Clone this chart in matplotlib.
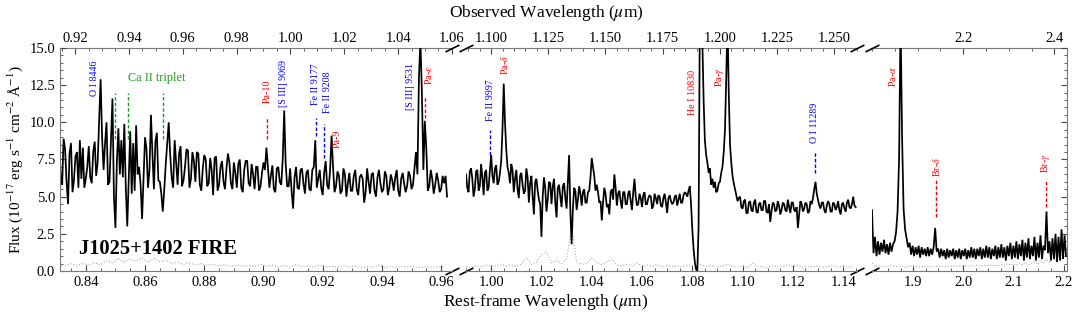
import numpy as np
import matplotlib
matplotlib.use('Agg')
import matplotlib.pyplot as plt
from matplotlib.ticker import MultipleLocator, FixedLocator, FormatStrFormatter

plt.rcParams['font.family'] = ['Liberation Serif', 'DejaVu Serif']
plt.rcParams['mathtext.fontset'] = 'stix'

# redshift used for the observed-wavelength axis on top
z = 0.1

# ---- spectrum, panel 1 (rest-frame um, every 0.0005 from 0.831) ----
wave1_start, wave1_step = 0.831, 0.0005
flux1 = [
    9.4, 6.2, 5.8, 8.9, 8.2, 6.0, 4.5, 7.9, 8.6, 5.3, 6.1, 7.7, 8.0, 5.6, 8.8, 6.2, 8.3, 5.6, 6.2, 7.0,
    8.4, 6.3, 5.9, 8.0, 8.7, 6.4, 7.3, 10.0, 12.9, 9.0, 6.8, 8.6, 10.0, 5.8, 6.0, 8.9, 11.6, 5.0, 2.9, 7.4,
    9.6, 6.5, 8.8, 6.3, 9.9, 5.6, 3.0, 6.2, 9.4, 5.2, 8.6, 5.4, 9.8, 6.5, 7.0, 5.8, 3.5, 6.2, 9.0, 8.2,
    5.6, 6.8, 10.5, 7.9, 5.5, 8.7, 9.3, 6.1, 6.0, 5.2, 4.0, 5.5, 7.2, 8.6, 10.0, 7.8, 6.3, 5.6, 8.8, 7.3,
    5.8, 7.9, 8.4, 5.7, 6.1, 7.0, 8.2, 8.1, 5.6, 6.2, 8.0, 7.4, 6.0, 8.0, 7.9, 5.8, 5.4, 6.9, 7.8, 7.5,
    5.7, 5.9, 7.6, 6.8, 5.1, 7.6, 7.7, 5.4, 5.8, 7.0, 7.4, 6.0, 5.5, 6.9, 7.9, 7.3, 5.9, 5.5, 7.3, 6.6,
    5.6, 7.2, 7.5, 5.6, 5.3, 6.8, 7.4, 7.4, 5.9, 5.7, 7.2, 6.5, 5.5, 7.0, 7.0, 5.4, 5.7, 6.6, 7.3, 6.8,
    8.3, 7.0, 5.6, 6.4, 7.1, 5.5, 5.3, 6.9, 7.0, 6.0, 5.8, 7.5, 10.8, 7.2, 5.7, 5.7, 6.9, 5.4, 4.2, 6.3,
    7.0, 5.6, 5.5, 6.8, 6.9, 5.9, 5.2, 6.6, 6.8, 5.5, 5.4, 6.8, 7.0, 8.8, 5.6, 6.2, 6.8, 5.6, 5.1, 6.6,
    7.4, 5.8, 5.5, 6.8, 9.1, 7.0, 5.3, 5.7, 6.7, 6.4, 5.2, 5.4, 6.9, 6.5, 5.0, 5.9, 6.6, 5.4, 5.4, 6.4,
    6.8, 5.5, 5.1, 6.3, 6.5, 6.2, 4.6, 5.3, 6.9, 6.0, 5.2, 6.5, 6.6, 5.4, 5.0, 6.3, 6.8, 5.9, 5.3, 5.5,
    6.7, 6.4, 5.1, 5.6, 6.5, 6.1, 5.4, 6.3, 6.8, 5.4, 5.0, 6.2, 6.6, 5.9, 5.3, 5.7, 6.7, 6.4, 5.5, 5.8,
    6.9, 8.0, 6.5, 13.0, 15.5, 12.0, 6.8, 10.1, 8.2, 5.4, 5.7, 6.8, 6.2, 5.2, 5.8, 6.6, 6.1, 5.3, 5.5, 6.4,
    5.9, 6.4, 5.0,
]
err1_start, err1_step = 0.831, 0.002
err1 = [
    0.45, 0.35, 0.48, 0.38, 0.50, 0.40, 0.55, 0.42, 0.70, 0.55,
    0.85, 0.60, 0.80, 0.65, 0.90, 0.58, 0.85, 0.62, 0.75, 0.50,
    0.60, 0.45, 0.55, 0.40, 0.50, 0.38, 0.45, 0.35, 0.42, 0.33,
    0.40, 0.32, 0.38, 0.30, 0.45, 0.32, 0.38, 0.28, 0.36, 0.30,
    0.40, 0.28, 0.35, 0.27, 0.40, 0.26, 0.33, 0.25, 0.35, 0.27,
    0.32, 0.24, 0.30, 0.26, 0.38, 0.25, 0.30, 0.24, 0.32, 0.25,
    0.30, 0.23, 0.28, 0.24, 0.30, 0.25,
]

# ---- panel 2 (every 0.0005 from 0.990) ----
wave2_start, wave2_step = 0.990, 0.0005
flux2 = [
    6.5, 5.6, 5.3, 6.7, 6.9, 6.2, 5.0, 5.5, 6.7, 6.8, 5.4, 5.7, 7.2, 6.3, 5.1, 6.6, 6.8, 5.4, 5.6, 6.8,
    7.8, 6.4, 5.9, 6.9, 7.1, 5.8, 6.0, 6.6, 7.4, 9.5, 12.6, 10.0, 8.2, 7.0, 6.6, 5.9, 7.2, 6.8, 5.3, 6.2,
    6.8, 5.5, 4.9, 6.4, 6.6, 5.8, 5.2, 5.4, 6.9, 6.3, 4.6, 5.9, 6.4, 5.0, 3.8, 6.0, 6.2, 5.4, 4.8, 4.5,
    2.3, 5.0, 6.3, 5.6, 4.0, 4.8, 6.0, 5.9, 4.5, 5.7, 6.2, 4.6, 3.6, 5.6, 5.8, 5.0, 4.3, 5.7, 5.9, 4.9,
    4.2, 6.0, 7.8, 4.0, 1.8, 4.2, 5.6, 5.4, 4.1, 4.8, 5.7, 5.2, 4.4, 5.3, 5.5, 4.6, 4.6, 5.3, 5.4, 6.3,
    7.6, 7.0, 6.4, 5.4, 5.8, 5.3, 4.6, 4.7, 3.4, 4.6, 5.6, 5.2, 4.3, 4.5, 3.8, 5.3, 5.5, 4.8, 6.5, 5.6,
    4.4, 5.2, 5.4, 4.7, 4.2, 5.3, 5.3, 4.5, 4.5, 5.2, 5.4, 4.7, 4.1, 5.3, 6.2, 5.0, 4.4, 4.5, 5.2, 4.9,
    4.3, 5.1, 5.3, 4.5, 4.5, 4.9, 5.1, 5.0, 4.2, 4.4, 5.2, 4.9, 4.5, 5.1, 5.0, 4.4, 4.3, 4.9, 5.2, 4.6,
    3.9, 4.9, 5.1, 4.7, 4.5, 4.6, 5.0, 5.1, 4.4, 4.8, 5.2, 4.6, 4.6, 5.1, 5.3, 5.2, 5.0, 5.4, 5.7, 4.5,
    2.8, 1.5, 0.6, 0.1, 0.0, 3.0, 17.0, 17.0, 15.5, 11.5, 8.8, 7.8, 7.3, 6.6, 6.9, 5.8, 6.2, 5.6, 6.0, 5.3,
    5.4, 5.9, 6.0, 6.6, 7.0, 8.0, 9.5, 13.0, 17.0, 12.0, 8.5, 7.3, 6.4, 5.9, 5.5, 5.1, 4.7, 4.9, 5.0, 4.3,
    4.2, 4.7, 4.8, 3.9, 3.9, 4.6, 4.7, 4.1, 4.0, 4.6, 4.8, 4.0, 3.9, 4.5, 4.6, 4.1, 4.1, 4.7, 4.7, 4.0,
    3.9, 4.5, 3.3, 4.0, 4.6, 4.5, 4.0, 4.1, 4.7, 4.4, 3.8, 4.1, 4.6, 4.5, 4.1, 4.0, 4.8, 4.3, 3.9, 4.6,
    4.6, 4.1, 4.0, 4.3, 2.9, 3.8, 4.7, 4.5, 4.0, 4.2, 4.6, 4.5, 3.9, 4.0, 4.7, 4.5, 4.9, 5.5, 6.0, 5.2,
    4.8, 4.4, 4.2, 4.6, 4.6, 4.1, 3.9, 4.4, 4.7, 4.5, 4.0, 4.0, 4.6, 4.5, 4.1, 4.3, 4.7, 4.1, 3.8, 4.5,
    4.6, 4.2, 4.0, 4.6, 4.8, 4.3, 4.2, 4.5, 5.0, 4.4, 4.3,
]
err2_start, err2_step = 0.990, 0.002
err2 = [
    0.30, 0.25, 0.35, 0.28, 0.40, 0.30, 0.35, 0.45, 0.35, 0.40,
    0.30, 0.45, 0.90, 0.45, 0.60, 1.10, 1.30, 0.55, 0.70, 0.50,
    0.80, 2.90, 0.60, 0.45, 0.50, 0.90, 0.55, 0.45, 0.60, 0.80,
    0.40, 0.35, 0.45, 0.35, 0.55, 0.30, 0.40, 0.30, 0.45, 0.28,
    0.38, 0.30, 0.35, 0.28, 0.40, 0.35, 0.50, 0.40, 0.30, 0.35,
    0.28, 0.35, 0.45, 0.30, 0.28, 0.35, 0.25, 0.55, 0.28, 0.30,
    0.25, 0.35, 0.28, 0.30, 0.45, 0.28, 0.40, 0.25, 0.30, 0.28,
    0.32, 0.25, 0.30, 0.35, 0.28, 0.30, 0.26, 0.30,
]

# ---- panel 3 (every 0.003 from 1.818) ----
wave3_start, wave3_step = 1.818, 0.003
flux3 = [
    4.1, 1.2, 2.3, 1.0, 2.0, 1.1, 1.9, 1.3, 2.1, 1.2,
    1.8, 1.1, 1.9, 1.3, 1.8, 2.0, 2.6, 4.0, 7.5, 17.0,
    9.0, 4.2, 2.8, 2.2, 1.6, 1.9, 1.1, 1.7, 1.0, 1.6,
    1.1, 1.7, 0.9, 1.6, 1.1, 1.5, 1.0, 1.6, 1.0, 1.5,
    1.1, 1.6, 2.9, 1.3, 1.5, 0.9, 1.5, 1.0, 1.4, 0.8,
    1.5, 0.9, 1.4, 1.0, 1.5, 0.8, 1.4, 0.9, 1.5, 0.8,
    1.4, 1.0, 1.5, 0.8, 1.4, 0.9, 1.6, 0.9, 1.5, 0.8,
    1.5, 1.0, 1.6, 0.8, 1.5, 0.9, 1.7, 0.9, 1.6, 0.8,
    1.5, 1.0, 1.7, 0.8, 1.6, 0.9, 1.8, 0.9, 1.6, 0.7,
    1.7, 1.0, 1.9, 0.8, 1.7, 0.9, 2.0, 0.8, 1.8, 1.0,
    2.1, 0.7, 1.9, 0.9, 2.2, 0.8, 1.7, 1.0, 2.3, 0.7,
    1.9, 0.9, 2.4, 0.8, 1.7, 1.4, 4.0, 1.2, 2.0, 0.7,
    2.2, 0.8, 2.5, 0.6, 2.3, 0.7, 2.8, 0.8, 2.4, 1.0,
]
err3_start, err3_step = 1.818, 0.006
err3 = [
    0.55, 0.30, 0.35, 0.28, 0.32, 0.30, 0.40, 0.35, 0.30, 0.28,
    0.32, 0.27, 0.30, 0.35, 0.28, 0.30, 0.26, 0.32, 0.28, 0.30,
    0.27, 0.33, 0.30, 0.35, 0.28, 0.32, 0.30, 0.36, 0.30, 0.34,
    0.32, 0.38, 0.30, 0.36, 0.33, 0.40, 0.32, 0.38, 0.35, 0.42,
    0.34, 0.40, 0.36, 0.45, 0.35, 0.50, 0.40, 0.48, 0.38, 0.55,
    0.42, 0.60, 0.45, 0.50, 0.65, 0.45, 0.70, 0.50, 0.80, 0.60,
    0.90, 0.70, 1.10, 0.80, 1.00,
]

# line identifications: name, rest wavelength of the text, lower end of text (flux)
line_names = ['O I 8446', 'Pa-10', '[S III] 9069', 'Fe II 9177', 'Fe II 9208', 'Pa-9',
              '[S III] 9531', r'Pa-$\epsilon$', 'Fe II 9997', r'Pa-$\delta$', 'He I 10830',
              r'Pa-$\gamma$', 'O I 11289', r'Pa-$\alpha$', r'Br-$\delta$', r'Br-$\gamma$']
line_text_x = [0.8429, 0.9013, 0.9068, 0.9176, 0.9216, 0.9250, 0.9497, 0.9557,
               0.9996, 1.0055, 1.0800, 1.0907, 1.1287, 1.8582, 1.9458, 2.1650]
line_text_y = [11.8, 11.3, 11.0, 11.15, 10.6, 8.3, 10.8, 12.5,
               10.1, 13.2, 10.5, 12.4, 8.6, 12.4, 6.3, 6.6]
line_colors = ['blue', 'red', 'blue', 'blue', 'blue', 'red', 'blue', 'red',
               'blue', 'red', 'red', 'red', 'blue', 'red', 'red', 'red']

# dashed tick marks above lines
mark_x = [0.8498, 0.8542, 0.8662, 0.9013, 0.9176, 0.9205, 0.9546, 0.9996, 1.1287, 1.9458, 2.1650]
mark_y0 = [8.9, 8.9, 8.9, 8.9, 9.1, 7.6, 10.3, 7.8, 6.6, 3.6, 4.3]
mark_y1 = [12.0, 12.0, 12.0, 10.3, 10.3, 9.9, 11.8, 9.5, 8.1, 6.1, 6.2]
mark_colors = ['#1e9a1e'] * 3 + ['red', 'blue', 'blue', 'red', 'blue', 'blue', 'red', 'red']

# ---- layout ----
fig = plt.figure(figsize=(10.8, 3.18), dpi=100)
bottom, height = 0.1478, 0.7013
ax1 = fig.add_axes([0.0556, bottom, 0.3630, height])
ax2 = fig.add_axes([0.4315, bottom, 0.3620, height])
ax3 = fig.add_axes([0.8074, bottom, 0.1806, height])
axes = [ax1, ax2, ax3]

xlims = [(0.8313, 0.9637), (0.990, 1.1455), (1.818, 2.207)]
bot_major = [0.02, 0.02, 0.1]
bot_minor = [0.005, 0.005, 0.025]
bot_fmt = ['%.2f', '%.2f', '%.1f']
top_ticks = [[0.92, 0.94, 0.96, 0.98, 1.00, 1.02, 1.04, 1.06],
             [1.100, 1.125, 1.150, 1.175, 1.200, 1.225, 1.250],
             [2.2, 2.4]]
top_minor = [0.005, 0.005, 0.05]
top_fmt = ['%.2f', '%.3f', '%.1f']


def sampled(start, step, values):
    return start + step * np.arange(len(values))


spectra = [(wave1_start, wave1_step, flux1, err1_start, err1_step, err1),
           (wave2_start, wave2_step, flux2, err2_start, err2_step, err2),
           (wave3_start, wave3_step, flux3, err3_start, err3_step, err3)]

frame = '#7a7a7a'
for i, ax in enumerate(axes):
    w0, dw, f, e0, de, e = spectra[i]
    ax.plot(sampled(e0, de, e), e, color='#aaaaaa', lw=0.8, ls=':')
    ax.plot(sampled(w0, dw, f), f, color='black', lw=1.25, solid_joinstyle='miter')
    ax.set_xlim(*xlims[i])
    ax.set_ylim(0, 15)
    ax.xaxis.set_major_locator(MultipleLocator(bot_major[i]))
    ax.xaxis.set_minor_locator(MultipleLocator(bot_minor[i]))
    ax.xaxis.set_major_formatter(FormatStrFormatter(bot_fmt[i]))
    ax.tick_params(axis='both', which='both', direction='in', top=False,
                   labelsize=10.5, color='#444444')
    ax.tick_params(which='major', length=4)
    ax.tick_params(which='minor', length=2)
    for s in ax.spines.values():
        s.set_color(frame)
    ax.spines['top'].set_visible(False)

    sec = ax.secondary_xaxis('top', functions=(lambda x: x * (1 + z), lambda x: x / (1 + z)))
    sec.xaxis.set_major_locator(FixedLocator(top_ticks[i]))
    sec.xaxis.set_minor_locator(MultipleLocator(top_minor[i]))
    sec.xaxis.set_major_formatter(FormatStrFormatter(top_fmt[i]))
    sec.tick_params(which='both', direction='in', labelsize=10.5, color='#444444', pad=2)
    sec.tick_params(which='major', length=4)
    sec.tick_params(which='minor', length=2)
    for s in sec.spines.values():
        s.set_color(frame)

# y axes: labels on the first panel only, ticks on the outer sides
ax1.yaxis.set_major_locator(MultipleLocator(2.5))
ax1.yaxis.set_minor_locator(MultipleLocator(0.5))
ax1.yaxis.set_major_formatter(FormatStrFormatter('%.1f'))
ax1.tick_params(axis='y', right=False)
ax1.spines['right'].set_visible(False)
ax2.tick_params(axis='y', which='both', left=False, right=False, labelleft=False)
ax2.spines['left'].set_visible(False)
ax2.spines['right'].set_visible(False)
ax3.yaxis.set_major_locator(MultipleLocator(2.5))
ax3.yaxis.set_minor_locator(MultipleLocator(0.5))
ax3.tick_params(axis='y', which='both', left=False, right=True, labelleft=False)
ax3.spines['left'].set_visible(False)

# break marks
kw = dict(marker=[(-1, -0.5), (1, 0.5)], markersize=10, linestyle='none',
          color='k', mec='k', mew=1.2, clip_on=False)
ax1.plot([1, 1], [0, 1], transform=ax1.transAxes, **kw)
ax2.plot([0, 0, 1, 1], [0, 1, 0, 1], transform=ax2.transAxes, **kw)
ax3.plot([0, 0], [0, 1], transform=ax3.transAxes, **kw)


def panel_of(x):
    for ax, (lo, hi) in zip(axes, xlims):
        if lo <= x <= hi:
            return ax
    return ax1


for name, x, y, c in zip(line_names, line_text_x, line_text_y, line_colors):
    panel_of(x).text(x, y, name, rotation=90, ha='center', va='bottom',
                     color=c, fontsize=7.2)
for x, y0, y1, c in zip(mark_x, mark_y0, mark_y1, mark_colors):
    panel_of(x).plot([x, x], [y0, y1], color=c, ls='--', lw=1.0, dashes=(2.5, 1.5))

ax1.text(0.8638, 13.0, 'Ca II triplet', color='#1e9a1e', fontsize=8.8,
         ha='center', va='center')
ax1.text(0.048, 0.10, 'J1025+1402 FIRE', transform=ax1.transAxes,
         fontsize=14.8, fontweight='bold', va='center', ha='left')

fig.text(0.014, 0.497, r'Flux (10$^{-17}$ erg s$^{-1}$ cm$^{-2}$ Å$^{-1}$)',
         rotation=90, ha='center', va='center', fontsize=11)
fig.text(0.505, 0.050, r'Rest-frame Wavelength ($\mu$m)', ha='center', va='center', fontsize=12.5)
fig.text(0.506, 0.960, r'Observed Wavelength ($\mu$m)', ha='center', va='center', fontsize=12.5)

fig.savefig('out.png', dpi=100)
